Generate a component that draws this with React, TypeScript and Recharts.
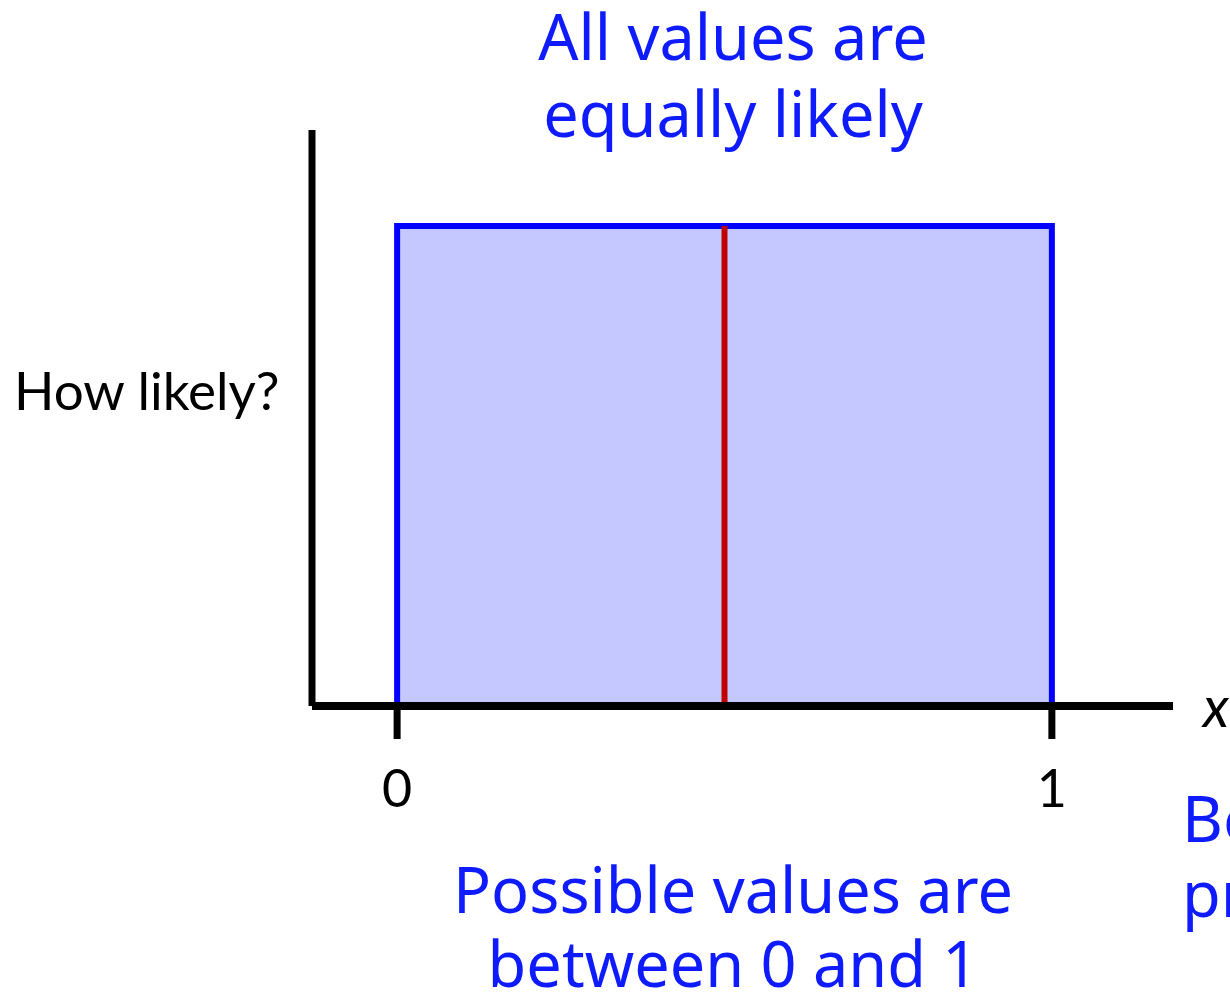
import React from "react";
import { ComposedChart, Area, XAxis, YAxis, ReferenceLine } from "recharts";

// uniform density on [0, 1], traced as a closed outline
const xValues = [0, 0, 1, 1];
const density = [0, 1, 1, 0];
const xTicks = [0, 1];
const meanValue = 0.5;

const titleLines = ["All values are", "equally likely"];
const footLines = ["Possible values are", "between 0 and 1"];
const sideLines = ["Be", "pr"];

const pdfData = xValues.map((x, i) => ({ x, density: density[i] }));

const blue = "#0f1bff";
const handFont = "'Comic Sans MS', 'Noto Sans', sans-serif";

export default function App() {
  return (
    <div style={{ position: "absolute", left: 0, top: 0, width: 1230, height: 995, background: "#fff" }}>
      <ComposedChart
        width={1230}
        height={995}
        data={pdfData}
        margin={{ top: 130, right: 57, bottom: 229, left: 0 }}
      >
        <XAxis
          dataKey="x"
          type="number"
          domain={[-0.13, 1.185]}
          allowDataOverflow
          ticks={xTicks}
          height={60}
          tickSize={33}
          tickMargin={31}
          axisLine={{ stroke: "#000", strokeWidth: 8 }}
          tickLine={{ stroke: "#000", strokeWidth: 7 }}
          tick={{ fontFamily: "Lato, sans-serif", fontSize: 52, fill: "#000" }}
          label={(props: any) => {
            const vb = props.viewBox;
            return (
              <text
                x={vb.x + vb.width + 30}
                y={vb.y + 21}
                fontFamily="Lato, sans-serif"
                fontStyle="italic"
                fontSize={56}
                fill="#000"
              >
                x
              </text>
            );
          }}
        />
        <YAxis
          type="number"
          domain={[0, 1.2]}
          allowDataOverflow
          width={312}
          tick={false}
          tickLine={false}
          axisLine={{ stroke: "#000", strokeWidth: 7 }}
          label={(props: any) => {
            const vb = props.viewBox;
            return (
              <text
                x={vb.x + 14}
                y={vb.y + vb.height / 2 - 8}
                fontFamily="Lato, sans-serif"
                fontSize={53}
                fill="#000"
              >
                How likely?
              </text>
            );
          }}
        />
        <Area
          type="linear"
          dataKey="density"
          stroke="#0000ff"
          strokeWidth={6}
          fill="#c4c8ff"
          fillOpacity={1}
          dot={false}
          activeDot={false}
          isAnimationActive={false}
        />
        <ReferenceLine
          segment={[
            { x: meanValue, y: 0 },
            { x: meanValue, y: 1 },
          ]}
          stroke="#c00000"
          strokeWidth={6}
        />
      </ComposedChart>
      <svg
        width={1230}
        height={995}
        style={{ position: "absolute", left: 0, top: 0, pointerEvents: "none" }}
      >
        {titleLines.map((t, i) => (
          <text key={t} x={733} y={60 + i * 77} textAnchor="middle" fontFamily={handFont} fontSize={63} fill={blue}>
            {t}
          </text>
        ))}
        {footLines.map((t, i) => (
          <text key={t} x={733} y={913 + i * 74} textAnchor="middle" fontFamily={handFont} fontSize={63} fill={blue}>
            {t}
          </text>
        ))}
        {sideLines.map((t, i) => (
          <text key={t} x={1182} y={842 + i * 75} fontFamily={handFont} fontSize={63} fill={blue}>
            {t}
          </text>
        ))}
      </svg>
    </div>
  );
}
